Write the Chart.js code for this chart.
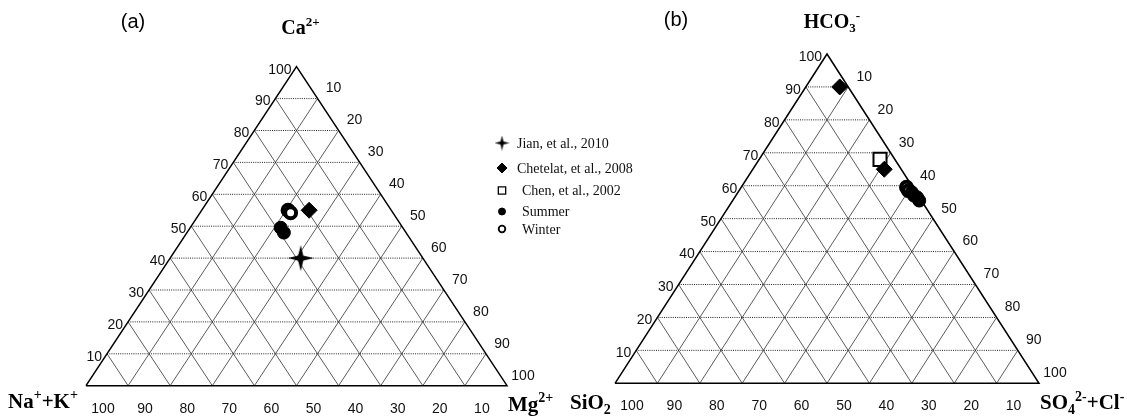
<!DOCTYPE html>
<html>
<head>
<meta charset="utf-8">
<title>Diagramas ternários</title>
<script src="https://cdn.jsdelivr.net/npm/chart.js@4.4.1/dist/chart.umd.min.js"></script>
<style>
    html, body { margin: 0; padding: 0; background: #fff; }
    #quadro { position: relative; width: 1127px; height: 416px; overflow: hidden; }
    #painelA, #painelB { position: absolute; top: 0; }
    #painelA { left: 0; }
    #painelB { left: 563px; }
</style>
</head>
<body>
<div id="quadro">
    <canvas id="painelA" width="700" height="416"></canvas>
    <canvas id="painelB" width="564" height="416"></canvas>
</div>
<script>
// ============================================
// DADOS
// ============================================

// linhas internas da grade e rótulos dos eixos (%)
const passos = [10, 20, 30, 40, 50, 60, 70, 80, 90];
const valoresEixo = [10, 20, 30, 40, 50, 60, 70, 80, 90, 100];
const rotulosEixo = ['10', '20', '30', '40', '50', '60', '70', '80', '90', '100'];

// Painel (a): [Ca, Mg, Na+K] em %
const jianA = [[40, 31, 29]];
const chetelatA = [[55, 25.5, 19.5]];
const summerA = [[49.5, 21.5, 29], [48, 23, 29]];
const winterA = [[55, 20.5, 24.5], [54.2, 21.5, 24.3]];

// Painel (b): [HCO3, SO4+Cl, SiO2] em %
const chetelatB = [[90, 8, 2], [65, 31, 4]];
const chenB = [[68, 28.5, 3.5]];
const winterB = [[59.5, 39, 1.5], [58.5, 40, 1.5]];
const summerB = [[58, 41, 1], [57, 42, 1], [56.5, 43, 0.5], [55.5, 44, 0.5]];

const legendaNomes = ['Jian, et al., 2010', 'Chetelat, et al., 2008', 'Chen, et al., 2002', 'Summer', 'Winter'];

// ========== FONTES ==========
const FONTE_SANS = '"Liberation Sans", Arial, sans-serif';
const FONTE_SERIF = '"Liberation Serif", "Times New Roman", serif';

// ========== ESTRELA DE 4 PONTAS ==========
function criarEstrela(tamanho) {
    const c = document.createElement('canvas');
    c.width = tamanho;
    c.height = tamanho;
    const g = c.getContext('2d');
    const R = tamanho / 2, r = tamanho * 0.14, centro = tamanho / 2;
    g.beginPath();
    for (let i = 0; i < 8; i++) {
        const ang = -Math.PI / 2 + i * Math.PI / 4;
        const raio = i % 2 === 0 ? R : r;
        g.lineTo(centro + raio * Math.cos(ang), centro + raio * Math.sin(ang));
    }
    g.closePath();
    g.fillStyle = '#000';
    g.fill();
    return c;
}

const estrelaGrande = criarEstrela(26);
const estrelaPequena = criarEstrela(15);

const estilos = {
    jian:     { pointStyle: estrelaGrande, pointRadius: 13, backgroundColor: '#000', borderColor: '#000', borderWidth: 0 },
    chetelat: { pointStyle: 'rectRot', pointRadius: 8, backgroundColor: '#000', borderColor: '#000', borderWidth: 1 },
    chen:     { pointStyle: 'rect', pointRadius: 9.2, backgroundColor: '#fff', borderColor: '#000', borderWidth: 2 },
    summer:   { pointStyle: 'circle', pointRadius: 6.5, backgroundColor: '#000', borderColor: '#000', borderWidth: 1 },
    winter:   { pointStyle: 'circle', pointRadius: 5.5, backgroundColor: '#fff', borderColor: '#000', borderWidth: 4 }
};

// legenda: estilo reduzido de cada série
const legendaEstilos = [
    { pointStyle: estrelaPequena, radius: 7, fill: '#000', stroke: '#000', borderWidth: 0 },
    { pointStyle: 'rectRot', radius: 5, fill: '#000', stroke: '#000', borderWidth: 1 },
    { pointStyle: 'rect', radius: 5.2, fill: '#fff', stroke: '#000', borderWidth: 1.3 },
    { pointStyle: 'circle', radius: 3.5, fill: '#000', stroke: '#000', borderWidth: 1 },
    { pointStyle: 'circle', radius: 3.3, fill: '#fff', stroke: '#000', borderWidth: 1.8 }
];
const legendaY = [143, 168, 190.5, 211.5, 229];
const legendaTextoX = [517, 517, 522, 522, 522];

// ========== CONVERSÃO TERNÁRIA ==========
// linha = [topo, direita, esquerda]  ->  coordenadas cartesianas 0..100
function paraXY(linha) {
    return { x: linha[1] + linha[0] / 2, y: linha[0] };
}

function pontoPx(chart, topo, direita) {
    return {
        x: chart.scales.x.getPixelForValue(direita + topo / 2),
        y: chart.scales.y.getPixelForValue(topo)
    };
}

// ========== GRADE ==========
function segmento(pontos, cor, traco, largura, ordem) {
    return {
        type: 'scatter',
        data: pontos,
        showLine: true,
        borderColor: cor,
        borderWidth: largura,
        borderDash: traco,
        pointRadius: 0,
        fill: false,
        clip: false,
        tension: 0,
        order: ordem
    };
}

function criarGrade() {
    const conjuntos = [];
    passos.forEach(t => {
        // topo constante (horizontal pontilhada)
        conjuntos.push(segmento([{ x: t / 2, y: t }, { x: 100 - t / 2, y: t }], '#222', [1, 1.2], 1, 11));
        // direita constante
        conjuntos.push(segmento([{ x: t, y: 0 }, { x: t + (100 - t) / 2, y: 100 - t }], '#4a4a4a', [], 0.9, 12));
        // esquerda constante
        conjuntos.push(segmento([{ x: 100 - t, y: 0 }, { x: (100 - t) / 2, y: 100 - t }], '#4a4a4a', [], 0.9, 12));
    });
    // contorno do triângulo
    conjuntos.push(segmento([{ x: 0, y: 0 }, { x: 50, y: 100 }, { x: 100, y: 0 }, { x: 0, y: 0 }], '#000', [], 1.5, 10));
    return conjuntos;
}

function serie(nome, linhas, estilo, ordem) {
    return Object.assign({
        type: 'scatter',
        label: nome,
        data: linhas.map(paraXY),
        clip: false,
        order: ordem
    }, estilo);
}

// ========== TEXTO COM SOBRESCRITO / SUBSCRITO ==========
function textoRico(ctx, partes, x, y, alinhamento, tamanho) {
    const grande = `bold ${tamanho}px ${FONTE_SERIF}`;
    const pequeno = `bold ${Math.round(tamanho * 0.66)}px ${FONTE_SERIF}`;
    let total = 0;
    partes.forEach(p => {
        ctx.font = p[1] === 0 ? grande : pequeno;
        total += ctx.measureText(p[0]).width;
    });
    let cx = alinhamento === 'center' ? x - total / 2 : x;
    ctx.textAlign = 'left';
    ctx.textBaseline = 'alphabetic';
    partes.forEach(p => {
        ctx.font = p[1] === 0 ? grande : pequeno;
        const dy = p[1] === 1 ? -tamanho * 0.4 : (p[1] === -1 ? tamanho * 0.22 : 0);
        ctx.fillText(p[0], cx, y + dy);
        cx += ctx.measureText(p[0]).width;
    });
}

// ========== RÓTULOS DOS EIXOS ==========
function desenharRotulos(chart) {
    const ctx = chart.ctx;
    ctx.save();
    ctx.fillStyle = '#111';
    ctx.font = `14px ${FONTE_SANS}`;
    valoresEixo.forEach((v, i) => {
        // lado esquerdo (componente do topo)
        let p = pontoPx(chart, v, 0);
        ctx.textAlign = 'right';
        ctx.textBaseline = 'middle';
        ctx.fillText(rotulosEixo[i], p.x - 5, p.y + 3);
        // lado direito (componente da direita)
        p = pontoPx(chart, 100 - v, v);
        ctx.textAlign = 'center';
        ctx.fillText(rotulosEixo[i], p.x + 16, p.y - 10);
        // base (componente da esquerda)
        p = pontoPx(chart, 0, 100 - v);
        ctx.fillText(rotulosEixo[i], p.x + 17, p.y + 23);
    });
    ctx.restore();
}

function desenharLegenda(chart) {
    const ctx = chart.ctx;
    const desenhaPonto = Chart.helpers && Chart.helpers.drawPoint;
    ctx.save();
    legendaNomes.forEach((nome, i) => {
        const e = legendaEstilos[i];
        ctx.fillStyle = e.fill;
        ctx.strokeStyle = e.stroke;
        ctx.lineWidth = e.borderWidth;
        if (desenhaPonto) {
            desenhaPonto(ctx, { pointStyle: e.pointStyle, radius: e.radius, rotation: 0, borderWidth: e.borderWidth }, 502, legendaY[i]);
        } else {
            ctx.beginPath();
            ctx.arc(502, legendaY[i], e.radius, 0, Math.PI * 2);
            ctx.fill();
            ctx.stroke();
        }
        ctx.fillStyle = '#111';
        ctx.font = `14px ${FONTE_SERIF}`;
        ctx.textAlign = 'left';
        ctx.textBaseline = 'middle';
        ctx.fillText(nome, legendaTextoX[i], legendaY[i] + 1);
    });
    ctx.restore();
}

const pluginPainelA = {
    id: 'painelA',
    afterDraw(chart) {
        const ctx = chart.ctx;
        const area = chart.chartArea;
        desenharRotulos(chart);
        ctx.save();
        ctx.fillStyle = '#000';
        ctx.font = `20px ${FONTE_SANS}`;
        ctx.textAlign = 'center';
        ctx.textBaseline = 'middle';
        ctx.fillText('(a)', 133, 22);
        textoRico(ctx, [['Ca', 0], ['2+', 1]], (area.left + area.right) / 2 + 4, area.top - 33, 'center', 20);
        textoRico(ctx, [['Na', 0], ['+', 1], ['+K', 0], ['+', 1]], 8, area.bottom + 22, 'left', 21);
        textoRico(ctx, [['Mg', 0], ['2+', 1]], area.right + 1, area.bottom + 25, 'left', 21);
        ctx.restore();
        desenharLegenda(chart);
    }
};

const pluginPainelB = {
    id: 'painelB',
    afterDraw(chart) {
        const ctx = chart.ctx;
        const area = chart.chartArea;
        desenharRotulos(chart);
        ctx.save();
        ctx.fillStyle = '#000';
        ctx.font = `20px ${FONTE_SANS}`;
        ctx.textAlign = 'center';
        ctx.textBaseline = 'middle';
        ctx.fillText('(b)', 113, 20);
        textoRico(ctx, [['HCO', 0], ['3', -1], ['-', 1]], (area.left + area.right) / 2 + 5, area.top - 26, 'center', 20);
        textoRico(ctx, [['SiO', 0], ['2', -1]], 7, area.bottom + 26, 'left', 21);
        textoRico(ctx, [['SO', 0], ['4', -1], ['2-', 1], ['+Cl', 0], ['-', 1]], area.right + 1, area.bottom + 26, 'left', 21);
        ctx.restore();
    }
};

// ========== CRIAR GRÁFICOS ==========
function opcoes(padding) {
    return {
        responsive: false,
        animation: false,
        events: [],
        layout: { padding: padding },
        scales: {
            x: { type: 'linear', min: 0, max: 100, display: false },
            y: { type: 'linear', min: 0, max: 100, display: false }
        },
        plugins: { legend: { display: false }, tooltip: { enabled: false } }
    };
}

new Chart(document.getElementById('painelA').getContext('2d'), {
    type: 'scatter',
    data: {
        datasets: [
            serie('Jian, et al., 2010', jianA, estilos.jian, 1),
            serie('Chetelat, et al., 2008', chetelatA, estilos.chetelat, 2),
            serie('Summer', summerA, estilos.summer, 3),
            serie('Winter', winterA, estilos.winter, 4)
        ].concat(criarGrade())
    },
    options: opcoes({ left: 86, right: 193, top: 66.7, bottom: 30.3 }),
    plugins: [pluginPainelA]
});

new Chart(document.getElementById('painelB').getContext('2d'), {
    type: 'scatter',
    data: {
        datasets: [
            serie('Chetelat, et al., 2008', chetelatB, estilos.chetelat, 1),
            serie('Chen, et al., 2002', chenB, estilos.chen, 2),
            serie('Summer', summerB, estilos.summer, 3),
            serie('Winter', winterB, estilos.winter, 4)
        ].concat(criarGrade())
    },
    options: opcoes({ left: 52, right: 88, top: 54, bottom: 32.7 }),
    plugins: [pluginPainelB]
});
</script>
</body>
</html>
